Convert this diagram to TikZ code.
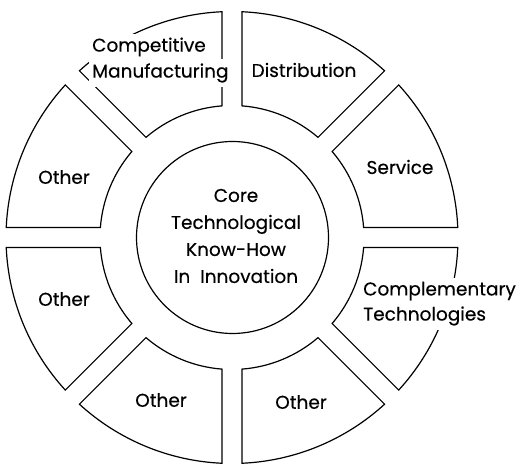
\documentclass[tikz,border=0pt]{standalone}
\usepackage{fontspec}
\setmainfont{Poppins}[FakeBold=0.4]
\begin{document}
\begin{tikzpicture}[x=1pt,y=1pt,
  segline/.style={line width=1.2pt, line join=miter},
  lbl/.style={font=\fontsize{18.5}{21}\selectfont, inner sep=2pt},
  masklbl/.style={lbl, fill=white, inner xsep=3pt, inner ysep=4pt, anchor=west}]
\useasboundingbox (0,0) rectangle (520,464);
\def\Ro{226}\def\Ri{132}\def\g{10}
\pgfmathsetmacro\ao{asin(\g/\Ro)}
\pgfmathsetmacro\ai{asin(\g/\Ri)}
\newcommand\segment[2]{\draw[segline] ({#1+\ao}:\Ro) arc[start angle={#1+\ao}, end angle={#2-\ao}, radius=\Ro] -- ({#2-\ai}:\Ri) arc[start angle={#2-\ai}, end angle={#1+\ai}, radius=\Ri] -- cycle;}
\begin{scope}[shift={(232,226.5)}]
  \segment{90}{135}
  \segment{45}{90}
  \segment{0}{45}
  \segment{-45}{0}
  \segment{-90}{-45}
  \segment{-135}{-90}
  \segment{180}{225}
  \segment{135}{180}
  \node[circle, draw, line width=1.2pt, minimum size=192pt, inner sep=0pt] (core) at (0.5,0) {};
\end{scope}
\node[lbl, align=center, font=\fontsize{18.5}{27}\selectfont] (coretext) at (236,228) {Core\\Technological\\Know-How\\In\ \ Innovation};
\node[masklbl] (cm1) at (89,417) {Competitive};
\node[masklbl] (cm2) at (89,391) {Manufacturing};
\node[lbl] (dist) at (304,394) {Distribution};
\node[lbl] (serv) at (400,297) {Service};
\node[masklbl] (comp1) at (360,173) {Complementary};
\node[masklbl] (comp2) at (360,148) {Technologies};
\node[lbl] (oth1) at (64,287) {Other};
\node[lbl] (oth2) at (64,165) {Other};
\node[lbl] (oth3) at (161,64) {Other};
\node[lbl] (oth4) at (301,62) {Other};
\end{tikzpicture}
\end{document}
